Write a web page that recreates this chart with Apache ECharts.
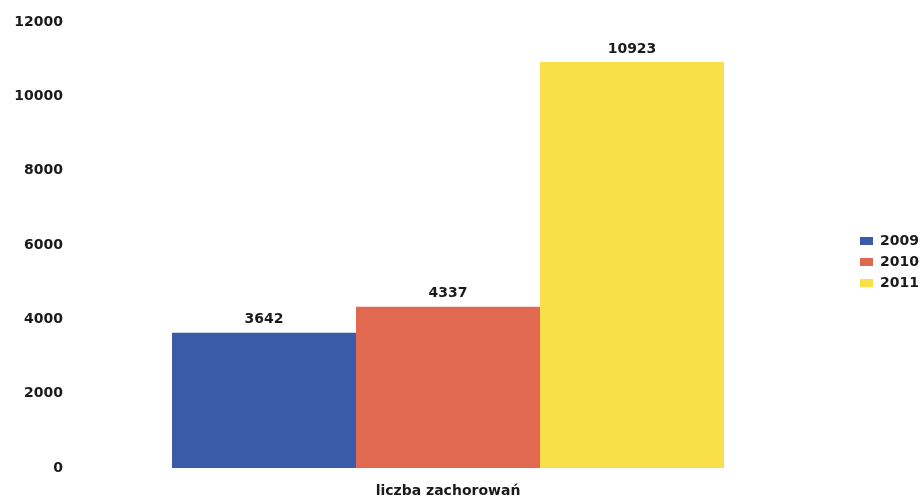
<!DOCTYPE html>
<html><head><meta charset="utf-8">
<script src="https://cdn.jsdelivr.net/npm/echarts@6/dist/echarts.min.js"></script>
<style>html,body{margin:0;padding:0;background:#fff}#c{width:924px;height:500px}</style>
</head><body><div id="c"></div>
<script>
const categories = ['liczba zachorowań'];
const seriesNames = ['2009', '2010', '2011'];
const values2009 = [3642];
const values2010 = [4337];
const values2011 = [10923];
const colors = ['#3a5ba8', '#e0694f', '#f9e04a'];
const allValues = [values2009, values2010, values2011];

const chart = echarts.init(document.getElementById('c'), null, {renderer: 'canvas'});
const font = 'DejaVu Sans, Verdana, sans-serif';
chart.setOption({
  backgroundColor: '#fff',
  animation: false,
  textStyle: {fontFamily: font},
  grid: {left: 80, right: 108, top: 22, bottom: 32, containLabel: false},
  legend: {
    orient: 'vertical', left: 855, top: 229, itemWidth: 13, itemHeight: 8, itemGap: 7,
    icon: 'rect',
    textStyle: {fontFamily: font, fontSize: 14, fontWeight: 'bold', color: '#1a1a1a', padding: [0, 0, 0, 2]},
    data: seriesNames
  },
  xAxis: {
    type: 'category', data: categories,
    axisLine: {show: false}, axisTick: {show: false},
    axisLabel: {fontFamily: font, fontSize: 14, fontWeight: 'bold', color: '#1a1a1a', margin: 16}
  },
  yAxis: {
    type: 'value', min: 0, max: 12000, interval: 2000,
    axisLine: {show: false}, axisTick: {show: false}, splitLine: {show: false},
    axisLabel: {fontFamily: font, fontSize: 14, fontWeight: 'bold', color: '#1a1a1a', margin: 17,
      formatter: v => String(v)}
  },
  series: seriesNames.map((n, i) => ({
    name: n, type: 'bar', data: allValues[i],
    itemStyle: {color: colors[i]},
    barGap: '0%', barCategoryGap: '25%',
    label: {show: true, position: 'top', distance: 6, fontFamily: font, fontSize: 14, fontWeight: 'bold', color: '#1a1a1a'}
  }))
});
</script></body></html>
